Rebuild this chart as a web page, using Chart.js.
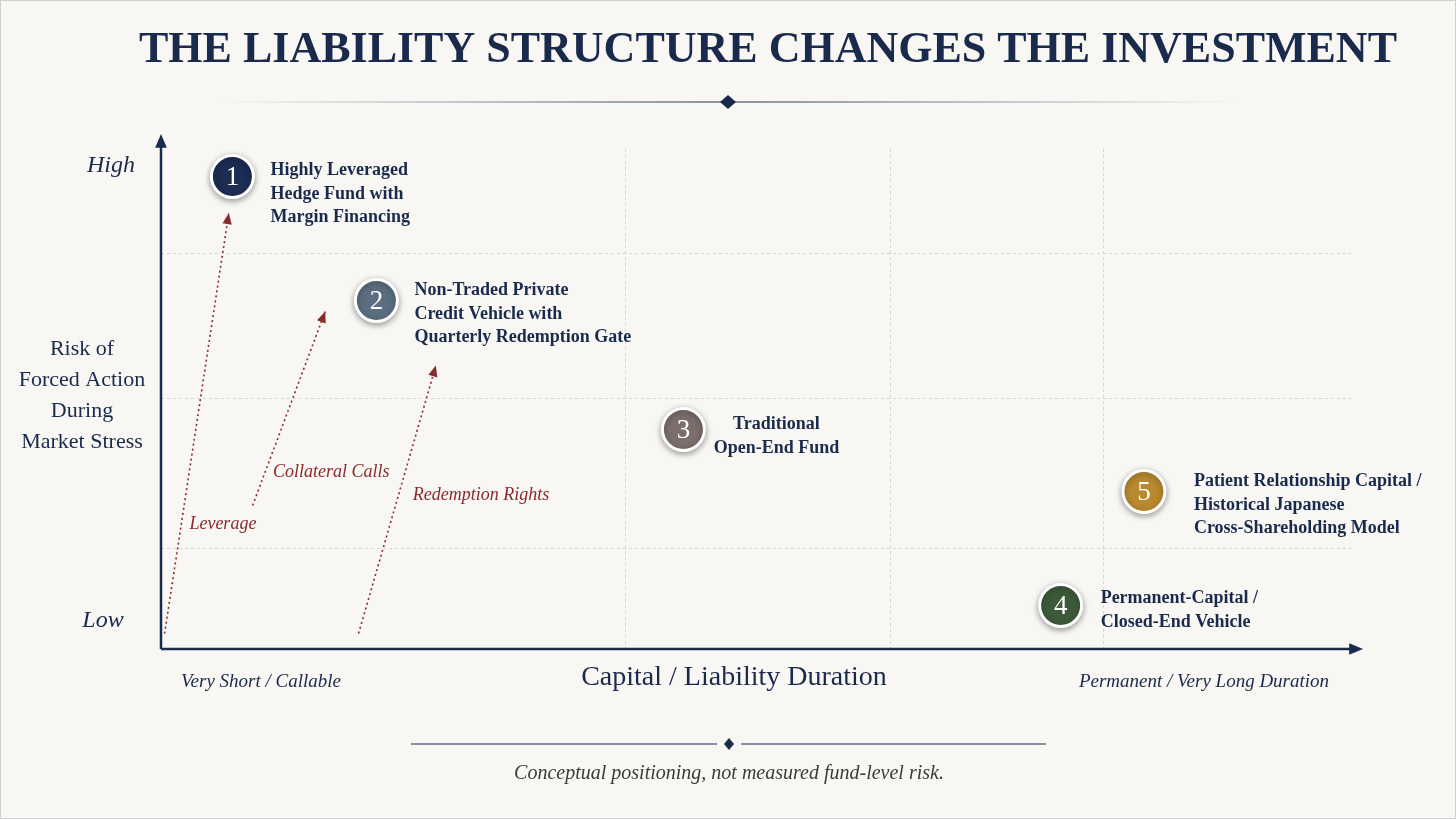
<!DOCTYPE html>
<html>
<head>
<meta charset="utf-8">
<script src="https://cdn.jsdelivr.net/npm/chart.js@4.4.1/dist/chart.umd.min.js"></script>
<style>
  html, body { margin: 0; padding: 0; background: #f8f7f4; }
  #wrap { position: relative; width: 1456px; height: 819px; box-sizing: border-box; border: 1px solid #cfcfcf; }
  canvas { display: block; }
</style>
</head>
<body>
<div id="wrap"><canvas id="chart" width="1454" height="817"></canvas></div>
<script>
// fund positions: x = liability duration, y = risk of forced action (0-100 conceptual)
const fundNumbers = ['1', '2', '3', '4', '5'];
const fundX = [6.0, 18.1, 43.9, 75.6, 82.6];
const fundY = [94.5, 69.7, 43.9, 8.7, 31.5];
const fundColors = ['#1b2d55', '#5b6e80', '#7b6e6b', '#3c5a3a', '#b8892f'];
const fundLabels = [
    ['Highly Leveraged', 'Hedge Fund with', 'Margin Financing'],
    ['Non-Traded Private', 'Credit Vehicle with', 'Quarterly Redemption Gate'],
    ['Traditional', 'Open-End Fund'],
    ['Permanent-Capital /', 'Closed-End Vehicle'],
    ['Patient Relationship Capital /', 'Historical Japanese', 'Cross-Shareholding Model']
];

// dotted red arrows (start, end) and their captions
const arrowNames = ['Leverage', 'Collateral Calls', 'Redemption Rights'];
const arrowStart = [[0.3, 3.1], [7.7, 28.7], [16.6, 3.1]];
const arrowEnd = [[5.7, 87.2], [13.8, 67.5], [23.1, 56.7]];
const arrowLabelPos = [[5.2, 25], [14.3, 35.4], [26.9, 30.7]];

const gridX = [39, 61.3, 79.2];
const gridY = [20.1, 50.2, 79.1];

const navy = '#1a2a4c';
const red = '#8a2a2a';
const serif = '"Liberation Serif", "DejaVu Serif", serif';

// label placement relative to each circle (pixels)
const labelOffsets = [[38, -6, 'left'], [38, -10, 'left'], [93, -5, 'center'], [40, -7, 'left'], [50, -10, 'left']];

const datasets = arrowNames.map((name, i) => ({
    type: 'line',
    label: name,
    data: [{ x: arrowStart[i][0], y: arrowStart[i][1] }, { x: arrowEnd[i][0], y: arrowEnd[i][1] }],
    borderColor: red,
    borderWidth: 1.6,
    borderDash: [2, 3],
    pointRadius: 0,
    fill: false
}));
datasets.push({
    type: 'scatter',
    label: 'funds',
    data: fundX.map((x, i) => ({ x: x, y: fundY[i] })),
    backgroundColor: fundColors,
    borderColor: '#ffffff',
    borderWidth: 3,
    pointRadius: 21,
    pointHoverRadius: 21
});

function text(ctx, str, x, y, font, color, align) {
    ctx.font = font;
    ctx.fillStyle = color;
    ctx.textAlign = align || 'center';
    ctx.textBaseline = 'middle';
    ctx.fillText(str, x, y);
}

function arrowHead(ctx, x1, y1, x2, y2, size, color) {
    const a = Math.atan2(y2 - y1, x2 - x1);
    ctx.save();
    ctx.fillStyle = color;
    ctx.beginPath();
    ctx.moveTo(x2, y2);
    ctx.lineTo(x2 - size * Math.cos(a - 0.4), y2 - size * Math.sin(a - 0.4));
    ctx.lineTo(x2 - size * Math.cos(a + 0.4), y2 - size * Math.sin(a + 0.4));
    ctx.closePath();
    ctx.fill();
    ctx.restore();
}

const decor = {
    id: 'decor',
    beforeDraw(chart) {
        const ctx = chart.ctx;
        ctx.save();
        ctx.fillStyle = '#f8f7f4';
        ctx.fillRect(0, 0, chart.width, chart.height);
        ctx.restore();
    },
    beforeDatasetDraw(chart, args) {
        if (args.meta.type === 'scatter') {
            chart.ctx.save();
            chart.ctx.shadowColor = 'rgba(0,0,0,0.35)';
            chart.ctx.shadowBlur = 6;
            chart.ctx.shadowOffsetY = 2;
        }
    },
    afterDatasetDraw(chart, args) {
        if (args.meta.type === 'scatter') chart.ctx.restore();
    },
    afterDraw(chart) {
        const ctx = chart.ctx;
        const xs = chart.scales.x, ys = chart.scales.y;
        const L = xs.left, B = ys.bottom;

        // title and ornament
        text(ctx, 'THE LIABILITY STRUCTURE CHANGES THE INVESTMENT', 767, 50, 'bold 44px ' + serif, navy);
        const g = ctx.createLinearGradient(215, 0, 1240, 0);
        g.addColorStop(0, 'rgba(26,42,76,0)');
        g.addColorStop(0.5, 'rgba(26,42,76,1)');
        g.addColorStop(1, 'rgba(26,42,76,0)');
        ctx.save();
        ctx.strokeStyle = g;
        ctx.lineWidth = 1.2;
        ctx.beginPath(); ctx.moveTo(215, 101); ctx.lineTo(1240, 101); ctx.stroke();
        ctx.fillStyle = navy;
        ctx.beginPath(); ctx.moveTo(727, 94); ctx.lineTo(735, 101); ctx.lineTo(727, 108); ctx.lineTo(719, 101); ctx.closePath(); ctx.fill();

        // axes
        ctx.strokeStyle = navy;
        ctx.lineWidth = 2.5;
        ctx.beginPath(); ctx.moveTo(L, B); ctx.lineTo(1350, B); ctx.stroke();
        ctx.beginPath(); ctx.moveTo(L, B); ctx.lineTo(L, 145); ctx.stroke();
        ctx.restore();
        arrowHead(ctx, L, B, 1362, B, 15, navy);
        arrowHead(ctx, L, B, L, 133, 15, navy);

        // axis texts
        text(ctx, 'High', 110, 165, 'italic 24px ' + serif, navy);
        text(ctx, 'Low', 102, 620, 'italic 24px ' + serif, navy);
        ['Risk of', 'Forced Action', 'During', 'Market Stress'].forEach((s, i) =>
            text(ctx, s, 81, 348 + i * 31, '22px ' + serif, navy));
        text(ctx, 'Very Short / Callable', 260, 681, 'italic 19px ' + serif, navy);
        text(ctx, 'Capital / Liability Duration', 733, 677, '28px ' + serif, navy);
        text(ctx, 'Permanent / Very Long Duration', 1203, 681, 'italic 19px ' + serif, navy);

        // arrows
        arrowNames.forEach((name, i) => {
            const x1 = xs.getPixelForValue(arrowStart[i][0]), y1 = ys.getPixelForValue(arrowStart[i][1]);
            const x2 = xs.getPixelForValue(arrowEnd[i][0]), y2 = ys.getPixelForValue(arrowEnd[i][1]);
            arrowHead(ctx, x1, y1, x2, y2, 12, red);
            text(ctx, name, xs.getPixelForValue(arrowLabelPos[i][0]), ys.getPixelForValue(arrowLabelPos[i][1]),
                'italic 18px ' + serif, red);
        });

        // fund numbers and labels
        fundNumbers.forEach((n, i) => {
            const px = xs.getPixelForValue(fundX[i]), py = ys.getPixelForValue(fundY[i]);
            text(ctx, n, px, py + 1, '27px ' + serif, '#ffffff');
            const off = labelOffsets[i];
            fundLabels[i].forEach((s, j) =>
                text(ctx, s, px + off[0], py + off[1] + j * 23.5, 'bold 18px ' + serif, navy, off[2]));
        });

        // footer
        ctx.save();
        ctx.strokeStyle = navy;
        ctx.lineWidth = 1;
        ctx.beginPath(); ctx.moveTo(410, 743); ctx.lineTo(716, 743); ctx.moveTo(740, 743); ctx.lineTo(1045, 743); ctx.stroke();
        ctx.fillStyle = navy;
        ctx.beginPath(); ctx.moveTo(728, 737); ctx.lineTo(733, 743); ctx.lineTo(728, 749); ctx.lineTo(723, 743); ctx.closePath(); ctx.fill();
        ctx.restore();
        text(ctx, 'Conceptual positioning, not measured fund-level risk.', 728, 773, 'italic 20px ' + serif, '#3a3a3a');
    }
};

new Chart(document.getElementById('chart'), {
    type: 'scatter',
    data: { datasets: datasets },
    options: {
        responsive: false,
        animation: false,
        layout: { padding: { left: 160, right: 104, top: 148, bottom: 169 } },
        plugins: { legend: { display: false }, tooltip: { enabled: false } },
        scales: {
            x: {
                min: 0, max: 100,
                afterBuildTicks: s => { s.ticks = gridX.map(v => ({ value: v })); },
                ticks: { display: false },
                grid: { color: '#d6d6d6', lineWidth: 1, drawTicks: false },
                border: { display: false, dash: [3, 3] }
            },
            y: {
                min: 0, max: 100,
                afterBuildTicks: s => { s.ticks = gridY.map(v => ({ value: v })); },
                ticks: { display: false },
                grid: { color: '#d6d6d6', lineWidth: 1, drawTicks: false },
                border: { display: false, dash: [3, 3] }
            }
        }
    },
    plugins: [decor]
});
</script>
</body>
</html>
